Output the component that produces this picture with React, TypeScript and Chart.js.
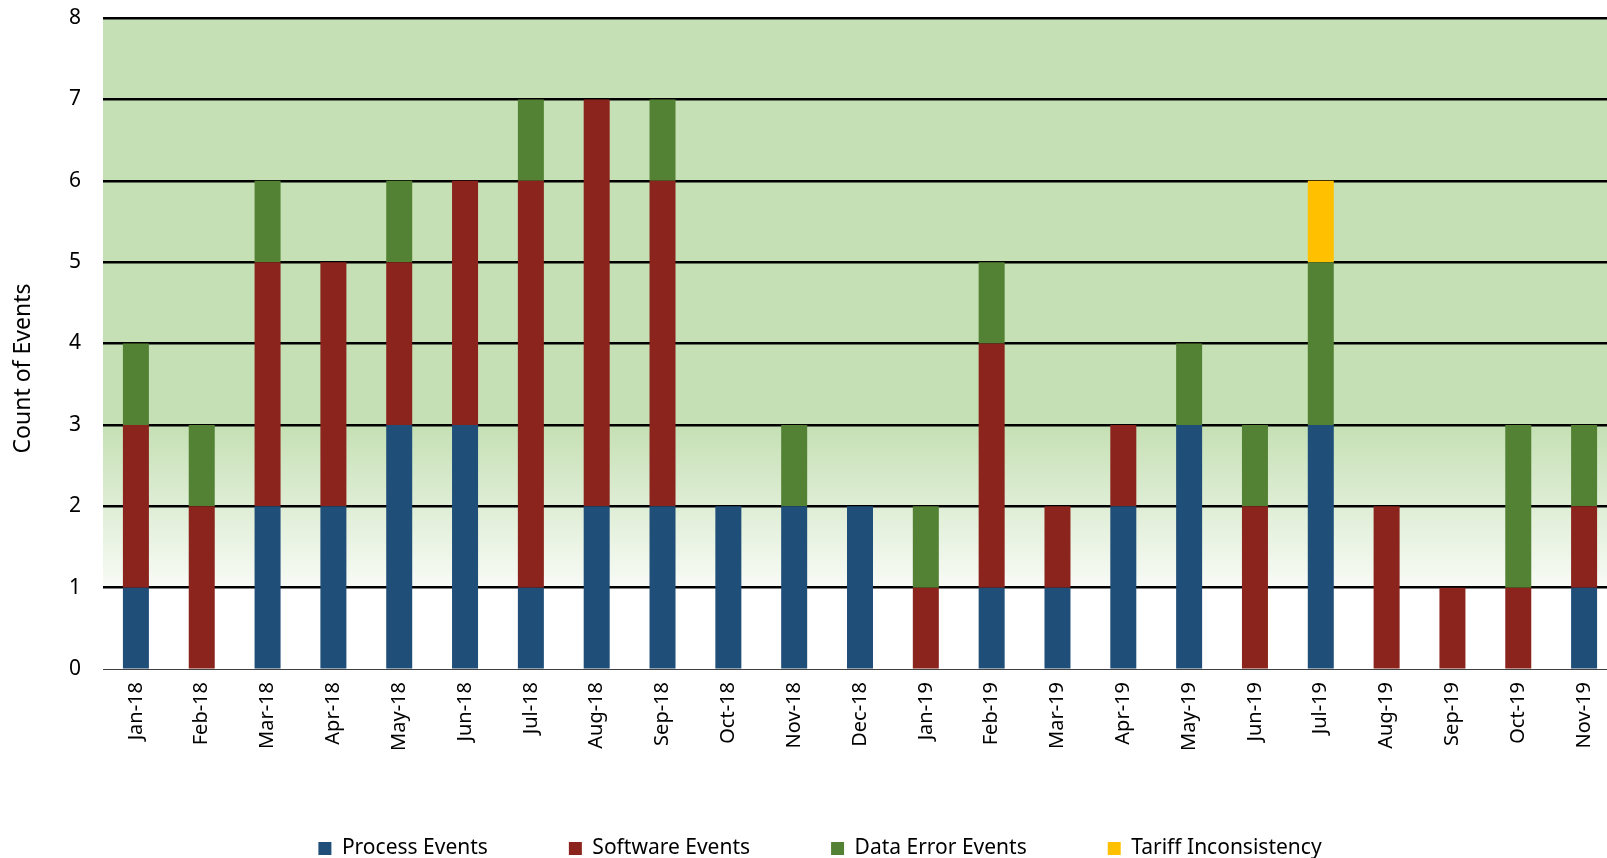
import React, { useEffect, useRef } from "react";
import { Chart, registerables } from "chart.js";

Chart.register(...registerables);

const categories = ["Jan-18","Feb-18","Mar-18","Apr-18","May-18","Jun-18","Jul-18","Aug-18","Sep-18","Oct-18","Nov-18","Dec-18","Jan-19","Feb-19","Mar-19","Apr-19","May-19","Jun-19","Jul-19","Aug-19","Sep-19","Oct-19","Nov-19"];
const processEvents = [1,0,2,2,3,3,1,2,2,2,2,2,0,1,1,2,3,0,3,0,0,0,1];
const softwareEvents = [2,2,3,3,2,3,5,5,4,0,0,0,1,3,1,1,0,2,0,2,1,1,1];
const dataErrorEvents = [1,1,1,0,1,0,1,0,1,0,1,0,1,1,0,0,1,1,2,0,0,2,1];
const tariffInconsistency = [0,0,0,0,0,0,0,0,0,0,0,0,0,0,0,0,0,0,1,0,0,0,0];
const yTicks = [0,1,2,3,4,5,6,7,8];
const yTitle = "Count of Events";

const FONT = "'Noto Sans', sans-serif";

const bgPlugin = {
  id: "bgGradient",
  beforeDraw(chart: any) {
    const { ctx, chartArea } = chart;
    if (!chartArea) return;
    const y = chart.scales.y;
    const top = chartArea.top;
    const bottom = chartArea.bottom;
    const h = bottom - top;
    const y3 = y.getPixelForValue(3);
    const y1 = y.getPixelForValue(1);
    const g = ctx.createLinearGradient(0, top, 0, bottom);
    const t3 = (y3 - top) / h;
    const t1 = (y1 - top) / h;
    g.addColorStop(0, "#C5E0B4");
    g.addColorStop(t3, "#C5E0B4");
    g.addColorStop(t1, "#F8FBF6");
    g.addColorStop(Math.min(1, t1 + 0.001), "#FFFFFF");
    g.addColorStop(1, "#FFFFFF");
    ctx.save();
    ctx.fillStyle = g;
    ctx.fillRect(chartArea.left, top, chartArea.right - chartArea.left, h);
    ctx.restore();
  },
};

const titlePlugin = {
  id: "yTitle",
  afterDraw(chart: any) {
    const { ctx, chartArea } = chart;
    const cy = (chartArea.top + chartArea.bottom) / 2 + 25;
    ctx.save();
    ctx.translate(23, cy);
    ctx.rotate(-Math.PI / 2);
    ctx.font = `23px ${FONT}`;
    ctx.fillStyle = "#000";
    ctx.textAlign = "center";
    ctx.textBaseline = "middle";
    ctx.fillText(yTitle, 0, 0);
    ctx.restore();
  },
};

export default function App() {
  const ref = useRef<HTMLCanvasElement>(null);
  useEffect(() => {
    if (!ref.current) return;
    const chart = new Chart(ref.current, {
      type: "bar",
      data: {
        labels: categories,
        datasets: [
          { label: "Process Events", data: processEvents, backgroundColor: "#1F4E79" },
          { label: "Software Events", data: softwareEvents, backgroundColor: "#8B241D" },
          { label: "Data Error Events", data: dataErrorEvents, backgroundColor: "#548235" },
          { label: "Tariff Inconsistency", data: tariffInconsistency, backgroundColor: "#FFC000" },
        ],
      },
      options: {
        responsive: false,
        animation: false,
        devicePixelRatio: 1,
        layout: { padding: { left: 23, right: 23, top: 18, bottom: 4 } },
        datasets: { bar: { categoryPercentage: 1, barPercentage: 0.395, borderWidth: 0 } },
        plugins: {
          tooltip: { enabled: false },
          legend: {
            position: "bottom",
            labels: {
              boxWidth: 13,
              boxHeight: 13,
              padding: 81,
              color: "#000",
              font: { family: FONT, size: 21 },
            },
          },
        },
        scales: {
          x: {
            stacked: true,
            grid: { display: false, drawTicks: false },
            border: { display: true, color: "#404040", width: 1 },
            ticks: {
              minRotation: 90,
              maxRotation: 90,
              padding: 13,
              color: "#000",
              font: { family: FONT, size: 20 },
              autoSkip: false,
            },
            afterFit: (s: any) => { s.height = 88; },
          },
          y: {
            stacked: true,
            min: 0,
            max: 8,
            afterBuildTicks: (s: any) => { s.ticks = yTicks.map((v) => ({ value: v })); },
            grid: {
              drawTicks: false,
              color: (c: any) => (c.tick && c.tick.value === 0 ? "#404040" : "#000"),
              lineWidth: (c: any) => (c.tick && c.tick.value === 0 ? 1 : 2.5),
            },
            border: { display: false },
            ticks: { padding: 22, color: "#000", font: { family: FONT, size: 21 } },
            title: { display: false },
            afterFit: (s: any) => {
              s.width = 80;
              s.paddingTop = 0;
              s.paddingBottom = 0;
            },
          },
        },
      },
      plugins: [bgPlugin, titlePlugin],
    });
    return () => chart.destroy();
  }, []);
  return (
    <div style={{ position: "fixed", left: 0, top: 0, width: 1607, height: 858, overflow: "hidden", background: "#fff" }}>
      <canvas ref={ref} width={1640} height={873} style={{ display: "block" }} />
    </div>
  );
}
